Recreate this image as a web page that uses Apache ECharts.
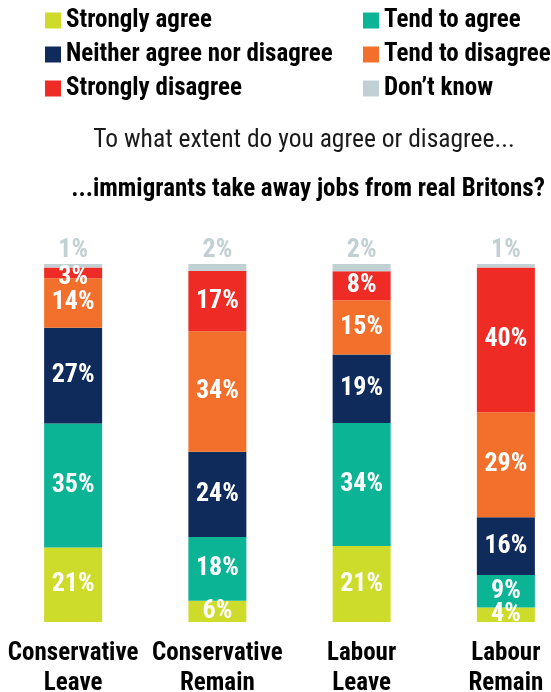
<!DOCTYPE html>
<html>
<head>
<meta charset="utf-8">
<script src="https://cdn.jsdelivr.net/npm/echarts@6/dist/echarts.min.js"></script>
<style>
html,body{margin:0;padding:0;background:#fff;}
#chart{width:551px;height:692px;}
</style>
</head>
<body>
<div id="chart"></div>
<script>
const categories = ['Conservative\nLeave', 'Conservative\nRemain', 'Labour\nLeave', 'Labour\nRemain'];
const seriesNames = ['Strongly agree', 'Tend to agree', 'Neither agree nor disagree', 'Tend to disagree', 'Strongly disagree', 'Don\u2019t know'];
const stronglyAgree = [21, 6, 21, 4];
const tendToAgree = [35, 18, 34, 9];
const neither = [27, 24, 19, 16];
const tendToDisagree = [14, 34, 15, 29];
const stronglyDisagree = [3, 17, 8, 40];
const dontKnow = [1, 2, 2, 1];
const subtitleText = 'To what extent do you agree or disagree...';
const titleText = '...immigrants take away jobs from real Britons?';

const colors = ['#cddc2b', '#0cb496', '#0f2b5c', '#f2702b', '#ee2b25', '#c1d0d3'];
const raw = [stronglyAgree, tendToAgree, neither, tendToDisagree, stronglyDisagree, dontKnow];
const totals = categories.map((c, i) => raw.reduce((s, arr) => s + arr[i], 0));

const FONT = "'Roboto Condensed', 'Open Sans Condensed', sans-serif";

const series = raw.map((arr, k) => ({
  name: seriesNames[k],
  type: 'bar',
  stack: 'total',
  barWidth: 58,
  itemStyle: { color: colors[k] },
  data: arr.map((v, i) => {
    const item = { value: v / totals[i] * 100 };
    if (k !== 5 && v <= 3) item.label = { offset: [0, 5] };
    return item;
  }),
  label: {
    show: true,
    position: k === 5 ? 'top' : 'inside',
    distance: 1,
    color: k === 5 ? '#c1d0d3' : '#ffffff',
    fontFamily: FONT,
    fontWeight: 'bold',
    fontSize: 26,
    formatter: p => arr[p.dataIndex] + '%'
  },
  emphasis: { disabled: true }
}));

const legendText = { fontFamily: FONT, fontWeight: 'bold', fontSize: 25, lineHeight: 24, color: '#000' };

const option = {
  animation: false,
  backgroundColor: '#fff',
  title: [
    { text: subtitleText, left: 304, top: 128, textAlign: 'center', padding: 0,
      textStyle: { fontFamily: FONT, fontWeight: 'normal', fontSize: 25.5, color: '#1a1a1a' } },
    { text: titleText, left: 308, top: 177, textAlign: 'center', padding: 0,
      textStyle: { fontFamily: FONT, fontWeight: 'bold', fontSize: 25, color: '#000' } }
  ],
  legend: [
    { data: [seriesNames[0], seriesNames[2], seriesNames[4]], orient: 'vertical', left: 45, top: 8,
      padding: 0, itemWidth: 16, itemHeight: 16, itemGap: 9, icon: 'rect', textStyle: legendText, selectedMode: false },
    { data: [seriesNames[1], seriesNames[3], seriesNames[5]], orient: 'vertical', left: 363, top: 8,
      padding: 0, itemWidth: 16, itemHeight: 16, itemGap: 9, icon: 'rect', textStyle: legendText, selectedMode: false }
  ],
  grid: { left: 1, width: 577, top: 264, height: 358, containLabel: false, outerBoundsMode: 'none' },
  xAxis: {
    type: 'category',
    data: categories,
    axisLine: { show: false },
    axisTick: { show: false },
    axisLabel: { margin: 17, fontFamily: FONT, fontWeight: 'bold', fontSize: 25, lineHeight: 30, color: '#000', interval: 0 }
  },
  yAxis: { type: 'value', min: 0, max: 100, show: false, splitLine: { show: false } },
  series: series
};

const chart = echarts.init(document.getElementById('chart'), null, { renderer: 'canvas' });
chart.setOption(option);
</script>
</body>
</html>
